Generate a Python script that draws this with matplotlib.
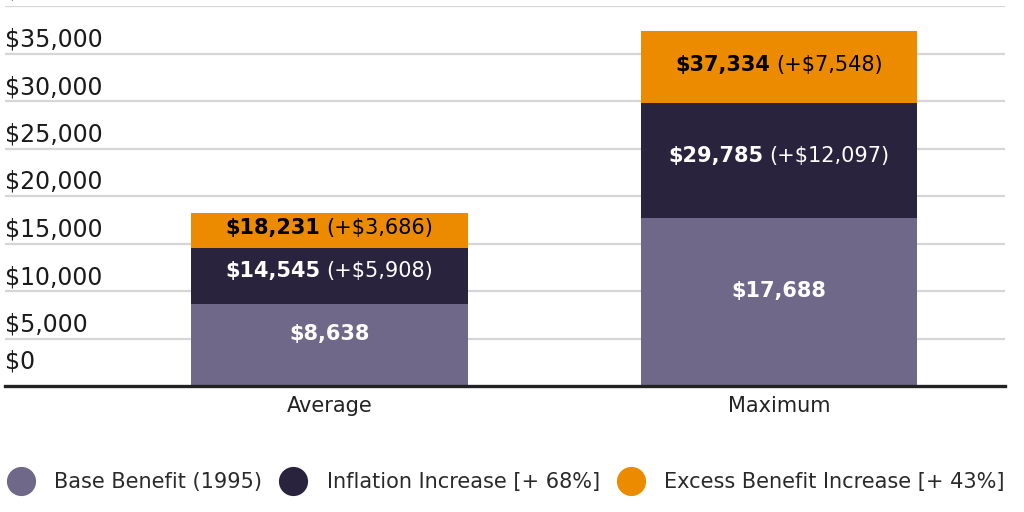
import numpy as np
import matplotlib
matplotlib.use("Agg")
import matplotlib.pyplot as plt
from matplotlib.lines import Line2D
from matplotlib import transforms

#--------- data ---------
categories = ["Average", "Maximum"]
base = [8638, 17688]
inflation = [5908, 12097]
excess = [3686, 7548]
inflation_total = [14545, 29785]
excess_total = [18231, 37334]

y_ticks = [0, 5000, 10000, 15000, 20000, 25000, 30000, 35000, 40000]
legend_labels = ["Base Benefit (1995)", "Inflation Increase [+ 68%]", "Excess Benefit Increase [+ 43%]"]

c_base = "#6f6888"
c_infl = "#29233d"
c_exc = "#ec8a00"

plt.rcParams['font.family'] = ['DejaVu Sans']

fig = plt.figure(figsize=(10.24, 5.12), dpi=100)
ax = fig.add_axes([5/1024, 126/512, 1000/1024, 380/512])

x = np.arange(len(categories))
w = 0.616
base = np.array(base)
inflation = np.array(inflation)
excess = np.array(excess)

ax.bar(x, base, w, color=c_base, linewidth=0, zorder=2)
ax.bar(x, inflation, w, bottom=base, color=c_infl, linewidth=0, zorder=2)
ax.bar(x, excess, w, bottom=base + inflation, color=c_exc, linewidth=0, zorder=2)

ax.set_xlim(-0.722, 1.503)
ax.set_ylim(0, 40000)
for s in ax.spines.values():
    s.set_visible(False)

# grid
for v in y_ticks[1:]:
    ax.axhline(v, color="#d6d6d6", lw=1.6, zorder=1)
ax.axhline(0, color="#222222", lw=2.4, zorder=3, clip_on=False)

# y labels sit above the gridlines (top one runs off the picture)
ax.set_yticks([])
trans = transforms.blended_transform_factory(ax.transAxes, ax.transData)
for v in y_ticks:
    if v == 0:
        up = 18
    elif v == 40000:
        up = 9
    else:
        up = 7
    ax.text(0, v, "${:,}".format(v), fontsize=17, color="#1a1a1a", ha="left", va="baseline",
            transform=transforms.offset_copy(trans, x=0, y=up, units="dots"), clip_on=False)

ax.set_xticks(x, categories)
ax.tick_params(axis="x", length=0, pad=7, labelsize=15, labelcolor="#222222")

# bar labels
pairs = []
def seg_label(xi, y, bold, rest, color, up):
    tb = ax.text(xi, y, bold, fontsize=15, fontweight="bold", color=color, ha="left", va="center", zorder=4)
    tr = None
    if rest:
        tr = ax.text(xi, y, rest, fontsize=15, color=color, ha="left", va="center", zorder=4)
    pairs.append((up, tb, tr))

for i in range(len(categories)):
    seg_label(x[i], base[i] / 2, "${:,}".format(base[i]), None, "white", 11)
    seg_label(x[i], base[i] + inflation[i] / 2, "${:,}".format(inflation_total[i]),
              "(+${:,})".format(inflation[i]), "white", 5)
    seg_label(x[i], base[i] + inflation[i] + excess[i] / 2, "${:,}".format(excess_total[i]),
              "(+${:,})".format(excess[i]), "black", 2)

fig.canvas.draw()
r = fig.canvas.get_renderer()
for up, tb, tr in pairs:
    wb = tb.get_window_extent(r).width
    if tr is None:
        tb.set_transform(transforms.offset_copy(ax.transData, x=-wb / 2, y=up, units="dots"))
        continue
    wr = tr.get_window_extent(r).width
    gap = 6
    W = wb + gap + wr
    tb.set_transform(transforms.offset_copy(ax.transData, x=-W / 2, y=up, units="dots"))
    tr.set_transform(transforms.offset_copy(ax.transData, x=-W / 2 + wb + gap, y=up, units="dots"))

# legend
handles = [Line2D([], [], marker="o", ls="", ms=21, markeredgewidth=0, color=c) for c in [c_base, c_infl, c_exc]]
leg = fig.legend(handles, legend_labels, ncol=3, loc="center left", bbox_to_anchor=(6/1024, 30/512),
                 frameon=False, fontsize=15, handlelength=1.4, handletextpad=0.9, columnspacing=0.8,
                 borderpad=0, borderaxespad=0)
for t in leg.get_texts():
    t.set_color("#2a2a2a")

fig.savefig("out.png", dpi=100)
